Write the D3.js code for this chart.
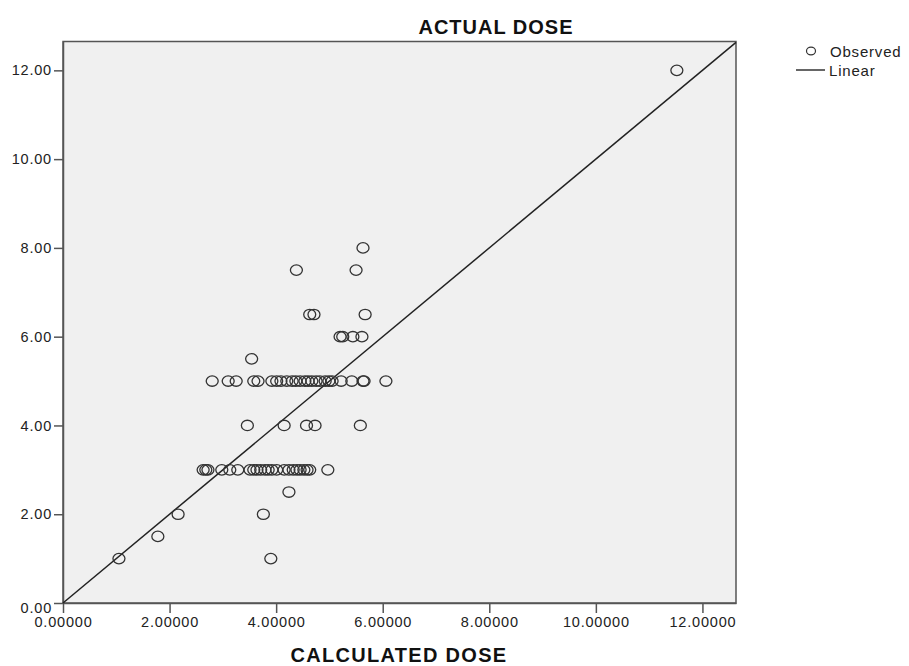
<!DOCTYPE html>
<html>
<head>
<meta charset="utf-8">
<script src="https://cdn.jsdelivr.net/npm/d3@7"></script>
<style>
  body { margin: 0; background: #fff; }
  text { font-family: "Liberation Sans", Arial, sans-serif; }
</style>
</head>
<body>
<svg id="chart" width="909" height="666"></svg>
<script>
// Observed points: calculated dose (x) vs actual dose (y)
const calcDose = [
  1.05, 1.78, 2.16, 3.76, 3.90, 4.24,
  3.46, 4.15, 4.57, 4.73, 5.58,
  2.63, 2.68, 2.72, 2.98, 3.13, 3.28, 3.51, 3.58, 3.64, 3.71, 3.79, 3.85, 3.92, 4.01, 4.15, 4.24, 4.32, 4.39, 4.45, 4.52, 4.58, 4.63, 4.97,
  2.80, 3.10, 3.25, 3.58, 3.66, 3.92, 4.01, 4.09, 4.20, 4.30, 4.37, 4.45, 4.54, 4.60, 4.67, 4.75, 4.82, 4.92, 4.99, 5.05, 5.22, 5.42, 5.63, 5.65, 6.06,
  3.54,
  5.20, 5.25, 5.44, 5.61,
  4.63, 4.71, 5.67,
  4.38, 5.50,
  5.63,
  11.52
];
const actualDose = [
  1.0, 1.5, 2.0, 2.0, 1.0, 2.5,
  4.0, 4.0, 4.0, 4.0, 4.0,
  3.0, 3.0, 3.0, 3.0, 3.0, 3.0, 3.0, 3.0, 3.0, 3.0, 3.0, 3.0, 3.0, 3.0, 3.0, 3.0, 3.0, 3.0, 3.0, 3.0, 3.0, 3.0, 3.0,
  5.0, 5.0, 5.0, 5.0, 5.0, 5.0, 5.0, 5.0, 5.0, 5.0, 5.0, 5.0, 5.0, 5.0, 5.0, 5.0, 5.0, 5.0, 5.0, 5.0, 5.0, 5.0, 5.0, 5.0, 5.0,
  5.5,
  6.0, 6.0, 6.0, 6.0,
  6.5, 6.5, 6.5,
  7.5, 7.5,
  8.0,
  12.0
];
const xTicks = [0, 2, 4, 6, 8, 10, 12];
const yTicks = [0, 2, 4, 6, 8, 10, 12];
// Linear fit line (y = x)
const fitLine = [[0, 0], [12.63, 12.63]];

const svg = d3.select("#chart");

const plotLeft = 63, plotRight = 736, plotTop = 41.5, plotBottom = 603;

const x = d3.scaleLinear().domain([0, 12.63]).range([plotLeft, plotRight]);
const y = d3.scaleLinear().domain([0, 12.65]).range([plotBottom, plotTop]);

// plot background frame
svg.append("rect")
  .attr("x", plotLeft).attr("y", plotTop)
  .attr("width", plotRight - plotLeft).attr("height", plotBottom - plotTop)
  .attr("fill", "#f0f0f0")
  .attr("stroke", "#555")
  .attr("stroke-width", 1.5);

// axes
const xAxis = svg.append("g")
  .attr("transform", `translate(0,${plotBottom})`)
  .call(d3.axisBottom(x).tickValues(xTicks).tickSize(10).tickSizeOuter(0)
    .tickFormat(d => d3.format(".5f")(d)));
const yAxis = svg.append("g")
  .attr("transform", `translate(${plotLeft},0)`)
  .call(d3.axisLeft(y).tickValues(yTicks).tickSize(9).tickSizeOuter(0)
    .tickFormat(d => d3.format(".2f")(d)));

[xAxis, yAxis].forEach(g => {
  g.select(".domain").attr("stroke", "#555").attr("stroke-width", 1.5);
  g.selectAll(".tick line").attr("stroke", "#555").attr("stroke-width", 1.5);
  g.selectAll(".tick text")
    .attr("fill", "#222")
    .style("font-size", "14.5px")
    .style("letter-spacing", "0.8px");
});
xAxis.selectAll(".tick text").attr("y", 14);
yAxis.selectAll(".tick text").attr("x", -11)
  .attr("dy", d => d === 0 ? "0.62em" : "0.32em");

// fit line
svg.append("path")
  .datum(fitLine)
  .attr("d", d3.line().x(d => x(d[0])).y(d => y(d[1])))
  .attr("stroke", "#222")
  .attr("stroke-width", 1.5)
  .attr("fill", "none");

// observed points
svg.selectAll(".pt")
  .data(calcDose.map((d, i) => [d, actualDose[i]]))
  .enter()
  .append("ellipse")
  .attr("class", "pt")
  .attr("cx", d => x(d[0]))
  .attr("cy", d => y(d[1]))
  .attr("rx", 6)
  .attr("ry", 5.2)
  .attr("fill", "none")
  .attr("stroke", "#333")
  .attr("stroke-width", 1.3);

// titles
svg.append("text")
  .attr("x", 496).attr("y", 34)
  .attr("text-anchor", "middle")
  .style("font-size", "20px").style("font-weight", "bold")
  .style("letter-spacing", "1px")
  .attr("fill", "#111")
  .text("ACTUAL DOSE");

svg.append("text")
  .attr("x", 399).attr("y", 662)
  .attr("text-anchor", "middle")
  .style("font-size", "20px").style("font-weight", "bold")
  .style("letter-spacing", "1.3px")
  .attr("fill", "#111")
  .text("CALCULATED DOSE");

// legend
const legend = svg.append("g");
legend.append("ellipse")
  .attr("cx", 811).attr("cy", 51)
  .attr("rx", 4.5).attr("ry", 3.8)
  .attr("fill", "none").attr("stroke", "#333").attr("stroke-width", 1.2);
legend.append("text")
  .attr("x", 830).attr("y", 57)
  .style("font-size", "15px").style("letter-spacing", "0.8px")
  .attr("fill", "#222")
  .text("Observed");
legend.append("line")
  .attr("x1", 796).attr("x2", 825)
  .attr("y1", 70).attr("y2", 70)
  .attr("stroke", "#333").attr("stroke-width", 1.5);
legend.append("text")
  .attr("x", 829).attr("y", 76)
  .style("font-size", "15px").style("letter-spacing", "0.8px")
  .attr("fill", "#222")
  .text("Linear");
</script>
</body>
</html>
